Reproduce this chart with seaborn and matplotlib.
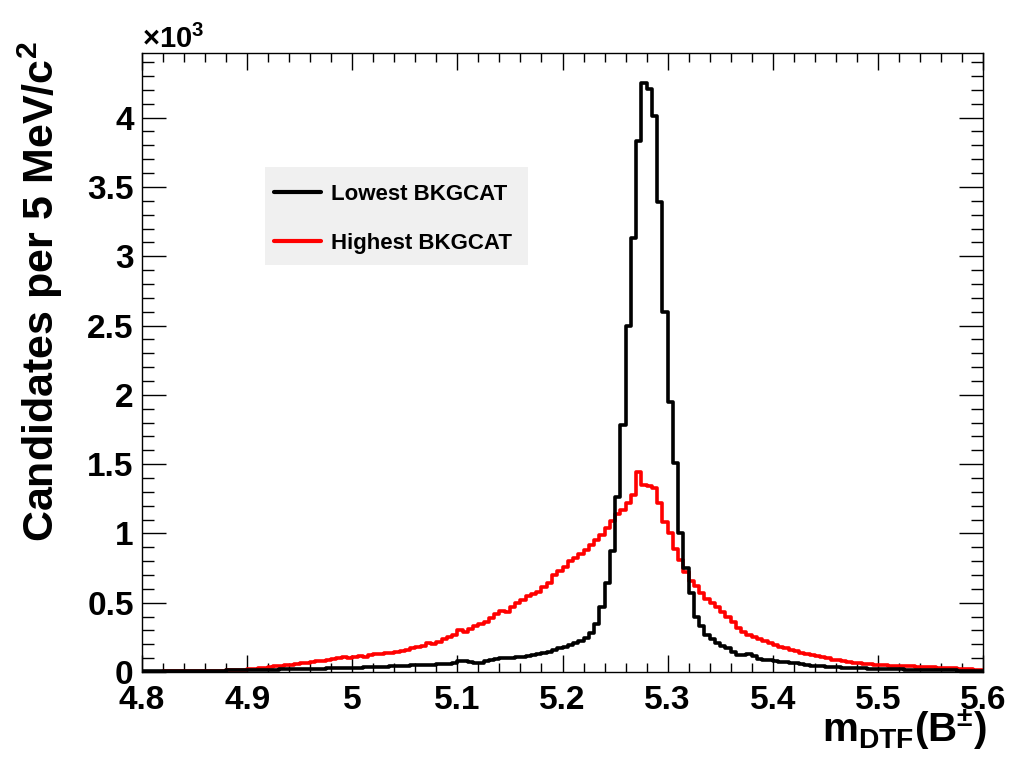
import numpy as np
import pandas as pd
import matplotlib
matplotlib.use("Agg")
import matplotlib.pyplot as plt
from matplotlib.ticker import MultipleLocator, FuncFormatter
from matplotlib.lines import Line2D
from matplotlib.patches import Rectangle
import seaborn as sns

# Mass window and binning (GeV/c^2), 5 MeV bins
mass_low = 4.8
mass_high = 5.6
bin_width = 0.005

# Candidates per bin, in units of 10^3
lowest_bkgcat = [
    0.004, 0.005, 0.004, 0.006, 0.005, 0.006, 0.007, 0.006, 0.008, 0.007,
    0.008, 0.009, 0.008, 0.010, 0.011, 0.010, 0.012, 0.013, 0.012, 0.014,
    0.015, 0.014, 0.016, 0.017, 0.018, 0.017, 0.019, 0.020, 0.021, 0.020,
    0.022, 0.023, 0.024, 0.023, 0.025, 0.026, 0.027, 0.026, 0.028, 0.030,
    0.031, 0.030, 0.033, 0.035, 0.036, 0.035, 0.038, 0.040, 0.042, 0.044,
    0.046, 0.048, 0.050, 0.052, 0.051, 0.054, 0.056, 0.055, 0.058, 0.067,
    0.080, 0.080, 0.072, 0.067, 0.068, 0.080, 0.087, 0.094, 0.100, 0.100,
    0.102, 0.106, 0.110, 0.115, 0.120, 0.130, 0.140, 0.146, 0.160, 0.170,
    0.180, 0.195, 0.210, 0.226, 0.245, 0.280, 0.350, 0.470, 0.640, 0.870,
    1.260, 1.780, 2.500, 3.130, 3.830, 4.250, 4.210, 4.010, 3.390, 2.600,
    1.950, 1.510, 1.000, 0.750, 0.570, 0.400, 0.330, 0.270, 0.235, 0.210,
    0.185, 0.170, 0.146, 0.125, 0.120, 0.130, 0.115, 0.095, 0.088, 0.085,
    0.078, 0.072, 0.070, 0.066, 0.062, 0.055, 0.050, 0.045, 0.042, 0.040,
    0.038, 0.035, 0.033, 0.030, 0.029, 0.028, 0.027, 0.026, 0.025, 0.024,
    0.023, 0.022, 0.021, 0.020, 0.019, 0.018, 0.017, 0.016, 0.015, 0.015,
    0.014, 0.013, 0.013, 0.012, 0.012, 0.011, 0.011, 0.010, 0.010, 0.010,
]

highest_bkgcat = [
    0.002, 0.002, 0.003, 0.003, 0.004, 0.004, 0.005, 0.005, 0.006, 0.006,
    0.007, 0.008, 0.008, 0.009, 0.010, 0.011, 0.012, 0.014, 0.016, 0.018,
    0.021, 0.024, 0.028, 0.031, 0.035, 0.040, 0.043, 0.048, 0.052, 0.058,
    0.062, 0.068, 0.072, 0.078, 0.082, 0.087, 0.092, 0.098, 0.105, 0.102,
    0.108, 0.115, 0.112, 0.120, 0.130, 0.128, 0.135, 0.140, 0.146, 0.155,
    0.160, 0.170, 0.180, 0.190, 0.210, 0.200, 0.220, 0.235, 0.250, 0.270,
    0.300, 0.290, 0.310, 0.330, 0.350, 0.360, 0.390, 0.420, 0.440, 0.430,
    0.470, 0.500, 0.520, 0.550, 0.560, 0.580, 0.610, 0.640, 0.700, 0.730,
    0.760, 0.800, 0.820, 0.850, 0.880, 0.920, 0.950, 0.990, 1.040, 1.090,
    1.140, 1.170, 1.220, 1.280, 1.440, 1.350, 1.340, 1.330, 1.220, 1.080,
    1.000, 0.890, 0.810, 0.720, 0.660, 0.620, 0.570, 0.530, 0.500, 0.470,
    0.435, 0.400, 0.360, 0.320, 0.290, 0.270, 0.255, 0.240, 0.225, 0.210,
    0.195, 0.180, 0.170, 0.160, 0.150, 0.140, 0.130, 0.120, 0.115, 0.105,
    0.100, 0.090, 0.085, 0.078, 0.072, 0.068, 0.064, 0.060, 0.056, 0.052,
    0.050, 0.048, 0.046, 0.044, 0.042, 0.041, 0.040, 0.038, 0.036, 0.035,
    0.033, 0.031, 0.030, 0.028, 0.026, 0.024, 0.022, 0.020, 0.018, 0.016,
]

sample_labels = ["Lowest BKGCAT", "Highest BKGCAT"]
sample_colors = ["#000000", "#ff0000"]
x_ticks = [4.8, 4.9, 5.0, 5.1, 5.2, 5.3, 5.4, 5.5, 5.6]
y_ticks = [0, 0.5, 1, 1.5, 2, 2.5, 3, 3.5, 4]
y_top = 4.466

sns.set_style("ticks")
plt.rcParams["font.family"] = ["Liberation Sans", "DejaVu Sans"]
plt.rcParams["font.weight"] = "bold"
plt.rcParams["text.color"] = "black"
plt.rcParams["mathtext.fontset"] = "custom"
plt.rcParams["mathtext.rm"] = "Liberation Sans:bold"
plt.rcParams["mathtext.bf"] = "Liberation Sans:bold"
plt.rcParams["mathtext.it"] = "Liberation Sans:bold"
plt.rcParams["mathtext.default"] = "bf"

n_bins = len(lowest_bkgcat)
edges = [mass_low + bin_width * k for k in range(n_bins + 1)]
centers = [0.5 * (edges[k] + edges[k + 1]) for k in range(n_bins)]

df = pd.DataFrame({
    "mass": centers + centers,
    "candidates": lowest_bkgcat + highest_bkgcat,
    "sample": [sample_labels[0]] * n_bins + [sample_labels[1]] * n_bins,
})

fig = plt.figure(figsize=(10.15, 7.72), dpi=100)
ax = fig.add_axes([0.1399, 0.1295, 0.8286, 0.8018])

sns.histplot(
    data=df, x="mass", weights="candidates", hue="sample",
    hue_order=sample_labels, palette=dict(zip(sample_labels, sample_colors)),
    bins=edges, element="step", fill=False, linewidth=2.6,
    legend=False, ax=ax,
)

ax.set_xlim(mass_low, mass_high)
ax.set_ylim(0, y_top)
ax.set_xlabel("")
ax.set_ylabel("")

ax.set_xticks(x_ticks)
ax.xaxis.set_minor_locator(MultipleLocator(0.02))
ax.set_yticks(y_ticks)
ax.yaxis.set_minor_locator(MultipleLocator(0.1))
ax.xaxis.set_major_formatter(FuncFormatter(lambda v, p: f"{v:g}"))
ax.yaxis.set_major_formatter(FuncFormatter(lambda v, p: f"{v:g}"))

ax.tick_params(axis="both", which="both", direction="in",
               top=True, right=True, width=1.0, colors="black")
ax.tick_params(axis="y", which="major", length=17, labelsize=24, pad=6)
ax.tick_params(axis="y", which="minor", length=8.5)
ax.tick_params(axis="x", which="major", length=12, labelsize=24, pad=9)
ax.tick_params(axis="x", which="minor", length=6.5)
for spine in ax.spines.values():
    spine.set_visible(True)
    spine.set_linewidth(1.0)
    spine.set_color("black")

fig.text(142 / 1015, 1 - 48 / 772, r"$\times$10$^{3}$", fontsize=21,
         ha="left", va="baseline")
fig.text(40 / 1015, 1 - 41 / 772, r"Candidates per 5 MeV/c$^{2}$",
         rotation=90, fontsize=31, ha="center", va="top")
fig.text(987 / 1015, 1 - 742 / 772, r"m$_{DTF}$(B$^{\pm}$)",
         fontsize=29, ha="right", va="baseline")

# Legend: grey panel with the two sample entries
def ax_x(px):
    return (px - 142) / 841

def ax_y(py):
    return (672 - py) / 619

ax.add_patch(Rectangle((ax_x(265), ax_y(265)), ax_x(528) - ax_x(265),
                       ax_y(167) - ax_y(265), transform=ax.transAxes,
                       facecolor="#f0f0f0", edgecolor="none", zorder=4))
handles = [Line2D([], [], color=c, linewidth=3) for c in sample_colors]
leg = ax.legend(handles, sample_labels, loc="upper left",
                bbox_to_anchor=(ax_x(274), ax_y(184)), fontsize=16,
                frameon=False, handlelength=2.1, handletextpad=0.45,
                labelspacing=1.25, borderpad=0, borderaxespad=0)
leg.set_zorder(5)
for t in leg.get_texts():
    t.set_fontweight("bold")

fig.savefig("out.png", dpi=100, facecolor="white")
